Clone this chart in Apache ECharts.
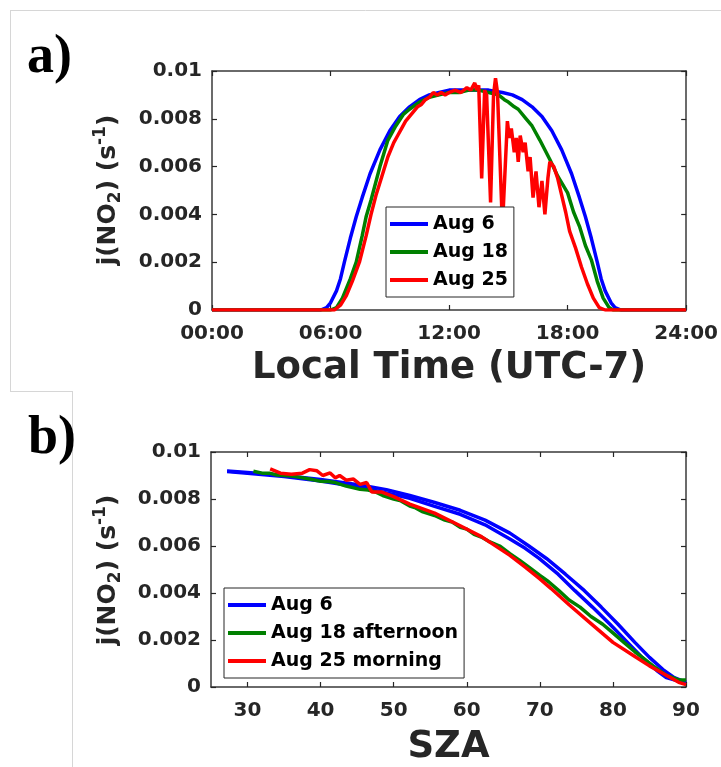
<!DOCTYPE html>
<html>
<head>
<meta charset="utf-8">
<script src="https://cdn.jsdelivr.net/npm/echarts@6/dist/echarts.min.js"></script>
<style>
  html, body { margin: 0; padding: 0; background: #fff; }
  #chart { width: 721px; height: 767px; }
</style>
</head>
<body>
<div id="chart"></div>
<script>
// ---- Panel a: j(NO2) against local time, [hour, value] ----
const aug6Time = [
  [0, 0], [5.5, 0], [5.8, 0.0001], [6.0, 0.0003], [6.3, 0.0008], [6.5, 0.0013], [6.7, 0.0020],
  [7.0, 0.0030], [7.3, 0.0039], [7.6, 0.0047], [8.0, 0.0057], [8.5, 0.0067], [9.0, 0.0075],
  [9.5, 0.0081], [10.0, 0.0085], [10.5, 0.0088], [11.0, 0.0090], [11.5, 0.0091], [12.0, 0.0092],
  [12.5, 0.0092], [13.0, 0.0092], [13.5, 0.0092], [14.0, 0.0092], [14.7, 0.0091], [15.2, 0.0090],
  [15.7, 0.0088], [16.2, 0.0085], [16.7, 0.0081], [17.2, 0.0075], [17.7, 0.0067], [18.2, 0.0057],
  [18.6, 0.0047], [18.9, 0.0039], [19.2, 0.0030], [19.5, 0.0020], [19.7, 0.0013], [19.9, 0.0008],
  [20.2, 0.0003], [20.4, 0.0001], [20.7, 0], [24, 0]
];
const aug18Time = [
  [0, 0], [6.0, 0], [6.3, 0.0001], [6.6, 0.0005], [7.0, 0.0013], [7.3, 0.0020], [7.6, 0.0031],
  [7.8, 0.0039], [8.05, 0.0046], [8.5, 0.0060], [8.9, 0.0071], [9.3, 0.0077], [9.7, 0.0082],
  [10.0, 0.0084], [10.5, 0.0087], [11.0, 0.0089], [11.5, 0.0090], [12.0, 0.0091], [12.5, 0.0091],
  [13.0, 0.0092], [13.5, 0.0092], [14.0, 0.0091], [14.5, 0.0090], [14.8, 0.0088], [15.0, 0.0087],
  [15.3, 0.0085], [15.5, 0.0084], [15.9, 0.0080], [16.2, 0.0077], [16.6, 0.0071], [17.1, 0.0063],
  [17.5, 0.0056], [18.0, 0.0049], [18.3, 0.0041], [18.6, 0.0035], [18.9, 0.0027], [19.2, 0.0021],
  [19.5, 0.0012], [19.8, 0.0005], [20.1, 0.0001], [20.3, 0], [24, 0]
];
const aug25Time = [
  [0, 0], [6.2, 0], [6.5, 0.0002], [6.8, 0.0006], [7.1, 0.0012], [7.46, 0.0020], [7.8, 0.0031],
  [8.05, 0.0040], [8.3, 0.0048], [8.6, 0.0056], [8.9, 0.0064], [9.2, 0.0070], [9.4, 0.0073],
  [9.6, 0.0076], [9.8, 0.0079], [10.0, 0.0081], [10.2, 0.0083], [10.4, 0.0085], [10.6, 0.0086],
  [10.8, 0.0088], [11.0, 0.0089], [11.2, 0.0091], [11.4, 0.0090], [11.6, 0.0091], [11.8, 0.0090],
  [12.0, 0.0091], [12.3, 0.0092], [12.6, 0.0091], [12.9, 0.0093], [13.1, 0.0092], [13.3, 0.0095],
  [13.4, 0.0092], [13.5, 0.0094], [13.65, 0.0055], [13.8, 0.0092], [13.9, 0.0090], [14.1, 0.0045],
  [14.25, 0.0090], [14.35, 0.0097], [14.45, 0.0091], [14.7, 0.0035], [14.95, 0.0079], [15.05, 0.0072],
  [15.15, 0.0076], [15.3, 0.0066], [15.4, 0.0072], [15.5, 0.0062], [15.6, 0.0073], [15.75, 0.0066],
  [15.85, 0.0070], [16.0, 0.0058], [16.1, 0.0064], [16.25, 0.0047], [16.4, 0.0058], [16.55, 0.0043],
  [16.7, 0.0054], [16.85, 0.0040], [17.0, 0.0055], [17.1, 0.0062], [17.3, 0.0060], [17.5, 0.0055],
  [17.7, 0.0048], [17.9, 0.0041], [18.1, 0.0033], [18.4, 0.0026], [18.7, 0.0018], [19.0, 0.0011],
  [19.3, 0.0005], [19.6, 0.0001], [19.9, 0], [24, 0]
];

// ---- Panel b: j(NO2) against solar zenith angle, [SZA, value] ----
const aug6SzaMorning = [
  [27.2, 0.00917], [30, 0.00910], [35, 0.00896], [40, 0.00877], [45.4, 0.0085], [49, 0.00826],
  [52.2, 0.00803], [55.5, 0.0077], [59.1, 0.00735], [62.5, 0.0069], [65.9, 0.0063], [68, 0.0059],
  [69.9, 0.00547], [72.5, 0.0048], [74.8, 0.0041], [77.2, 0.0034], [79.6, 0.00267], [82, 0.0019],
  [84, 0.00126], [86, 0.0007], [87.3, 0.0004], [89, 0.00025], [90, 0.0002]
];
const aug6SzaAfternoon = [
  [27.2, 0.00919], [30, 0.00913], [35, 0.00900], [40, 0.00883], [45.4, 0.0086], [49, 0.0084],
  [52.2, 0.00815], [55.5, 0.00786], [59.1, 0.00752], [62.5, 0.0071], [65.9, 0.00655], [68.5, 0.0060],
  [70.9, 0.00547], [73.5, 0.0048], [76.1, 0.0041], [78.4, 0.0034], [80.7, 0.00267], [83, 0.0019],
  [85, 0.00126], [87, 0.0007], [88.4, 0.0004], [90, 0.0002]
];
const aug18SzaAfternoon = [
  [30.8, 0.00918], [32, 0.0091], [33, 0.0091], [34, 0.00902], [35, 0.0090], [36, 0.00898],
  [37, 0.00893], [38.5, 0.00885], [39.9, 0.00876], [41, 0.00874], [42, 0.0087], [43.5, 0.00855],
  [45.4, 0.00841], [46.5, 0.00838], [47.5, 0.0083], [48.5, 0.00815], [50, 0.0080], [51, 0.00792],
  [52.2, 0.0077], [53, 0.00762], [54, 0.00745], [55.6, 0.0073], [57, 0.0071], [58, 0.00702],
  [59.1, 0.0068], [60, 0.00672], [61, 0.0065], [62, 0.00638], [63, 0.0062], [64.5, 0.0060],
  [65.9, 0.00567], [67.2, 0.0054], [68.5, 0.0051], [70, 0.00475], [71.2, 0.00448], [72.6, 0.0041],
  [74, 0.0037], [75.5, 0.0034], [77, 0.0030], [78.6, 0.00267], [80, 0.0023], [81.5, 0.0019],
  [83, 0.0015], [84, 0.00126], [85.5, 0.0009], [87.3, 0.0005], [89, 0.0003], [90, 0.0003]
];
const aug25SzaMorning = [
  [33.1, 0.00928], [34.5, 0.0091], [36, 0.00905], [37.5, 0.0091], [38.5, 0.00925], [39.5, 0.0092],
  [40.3, 0.0090], [41.3, 0.00911], [42, 0.0089], [42.6, 0.0090], [43.5, 0.0088], [44.5, 0.00885],
  [45.4, 0.00862], [46.3, 0.0087], [47, 0.0083], [48.3, 0.0083], [50, 0.0081], [52.2, 0.00778],
  [55.6, 0.0074], [59.1, 0.00686], [62, 0.0064], [65.9, 0.0056], [68, 0.0051], [70, 0.0046],
  [71.5, 0.0042], [74, 0.0035], [77, 0.0027], [80, 0.0019], [83, 0.0013], [85, 0.0009],
  [87.3, 0.0005], [89, 0.0002], [90, 0.0001]
];

// ---- Axis ticks and labels ----
const hourTicks = [0, 6, 12, 18, 24];
const szaTicks = [30, 40, 50, 60, 70, 80, 90];
const legendA = ['Aug 6', 'Aug 18', 'Aug 25'];
const legendB = ['Aug 6', 'Aug 18 afternoon', 'Aug 25 morning'];

const FONT = '"DejaVu Sans", Verdana, sans-serif';
const AXIS_COLOR = '#262626';
const BLUE = '#0000ff', GREEN = '#008000', RED = '#ff0000';

const hourLabel = v => (v < 10 ? '0' : '') + v + ':00';
const jLabel = v => (v === 0 ? '0' : String(+v.toFixed(3)));

const tickLine = { color: AXIS_COLOR, width: 1.2 };
function boxAxis(extra) {
  return Object.assign({
    type: 'value',
    splitLine: { show: false },
    axisLine: { show: true, onZero: false, lineStyle: { color: '#3a3a3a', width: 1.5 } },
    axisTick: { show: true, inside: true, length: 5, lineStyle: tickLine },
    axisLabel: { show: false }
  }, extra);
}
const tickLabel = { color: AXIS_COLOR, fontFamily: FONT, fontWeight: 'bold', fontSize: 20 };
const titleStyle = { color: AXIS_COLOR, fontFamily: FONT, fontWeight: 'bold', fontSize: 37 };

function line(name, data, color, xi, yi) {
  return {
    type: 'line', name, data, xAxisIndex: xi, yAxisIndex: yi,
    showSymbol: false, symbol: 'none', smooth: false, animation: false,
    lineStyle: { color, width: 3.5 }, itemStyle: { color }
  };
}

function legendBox(data, left, top) {
  return {
    data, orient: 'vertical', left, top, selectedMode: false,
    icon: 'rect', itemWidth: 38, itemHeight: 4, itemGap: 4,
    backgroundColor: '#ffffff', borderColor: AXIS_COLOR, borderWidth: 1,
    padding: [5, 6, 5, 4],
    textStyle: { color: '#000', fontFamily: FONT, fontWeight: 'bold', fontSize: 19, lineHeight: 24 }
  };
}

function yTitle(x, y) {
  const base = { fill: AXIS_COLOR, fontFamily: FONT, fontWeight: 'bold' };
  return {
    type: 'text', x, y, rotation: Math.PI / 2, z: 10,
    style: {
      text: '{m|j(NO}{s|2}{m|) (s}{p|-1}{m|)}',
      textAlign: 'center', textVerticalAlign: 'middle',
      rich: {
        m: Object.assign({ fontSize: 25, lineHeight: 32 }, base),
        s: Object.assign({ fontSize: 17, lineHeight: 17, verticalAlign: 'bottom' }, base),
        p: Object.assign({ fontSize: 17, lineHeight: 17, verticalAlign: 'top' }, base)
      }
    }
  };
}

const frame = { stroke: '#d6d6d6', lineWidth: 1 };
const panelFont = 'bold 54px "Liberation Serif", "Times New Roman", serif';

const option = {
  backgroundColor: '#ffffff',
  animation: false,
  grid: [
    { left: 212, top: 71, width: 476, height: 239 },
    { left: 211, top: 452, width: 475, height: 237 }
  ],
  xAxis: [
    boxAxis({
      gridIndex: 0, position: 'bottom', min: 0, max: 24, interval: 6,
      axisLabel: Object.assign({ show: true, margin: 14, formatter: hourLabel, customValues: hourTicks }, tickLabel),
      axisTick: { show: true, inside: true, length: 5, customValues: hourTicks, lineStyle: tickLine },
      name: 'Local Time (UTC-7)', nameLocation: 'middle', nameGap: 40, nameTextStyle: titleStyle
    }),
    boxAxis({ gridIndex: 0, position: 'top', min: 0, max: 24, interval: 6,
      axisTick: { show: true, inside: true, length: 5, customValues: hourTicks, lineStyle: tickLine } }),
    boxAxis({
      gridIndex: 1, position: 'bottom', min: 25, max: 90,
      axisLabel: Object.assign({ show: true, margin: 14, customValues: szaTicks }, tickLabel),
      axisTick: { show: true, inside: true, length: 5, customValues: szaTicks, lineStyle: tickLine },
      name: 'SZA', nameLocation: 'middle', nameGap: 42, nameTextStyle: titleStyle
    }),
    boxAxis({ gridIndex: 1, position: 'top', min: 25, max: 90,
      axisTick: { show: true, inside: true, length: 5, customValues: szaTicks, lineStyle: tickLine } })
  ],
  yAxis: [
    boxAxis({ gridIndex: 0, position: 'left', min: 0, max: 0.01, interval: 0.002,
      axisLabel: Object.assign({ show: true, margin: 10, formatter: jLabel }, tickLabel) }),
    boxAxis({ gridIndex: 0, position: 'right', min: 0, max: 0.01, interval: 0.002 }),
    boxAxis({ gridIndex: 1, position: 'left', min: 0, max: 0.01, interval: 0.002,
      axisLabel: Object.assign({ show: true, margin: 10, formatter: jLabel }, tickLabel) }),
    boxAxis({ gridIndex: 1, position: 'right', min: 0, max: 0.01, interval: 0.002 })
  ],
  legend: [legendBox(legendA, 386, 207), legendBox(legendB, 224, 588)],
  series: [
    line('Aug 6', aug6Time, BLUE, 0, 0),
    line('Aug 18', aug18Time, GREEN, 0, 0),
    line('Aug 25', aug25Time, RED, 0, 0),
    line('Aug 6', aug6SzaMorning, BLUE, 2, 2),
    line('Aug 6', aug6SzaAfternoon, BLUE, 2, 2),
    line('Aug 18 afternoon', aug18SzaAfternoon, GREEN, 2, 2),
    line('Aug 25 morning', aug25SzaMorning, RED, 2, 2)
  ],
  graphic: [
    { type: 'line', shape: { x1: 10, y1: 10.5, x2: 721, y2: 10.5 }, style: frame, silent: true },
    { type: 'line', shape: { x1: 10.5, y1: 10, x2: 10.5, y2: 391 }, style: frame, silent: true },
    { type: 'line', shape: { x1: 10, y1: 391.5, x2: 72, y2: 391.5 }, style: frame, silent: true },
    { type: 'line', shape: { x1: 72.5, y1: 391, x2: 72.5, y2: 767 }, style: frame, silent: true },
    { type: 'text', x: 27, y: 58, style: { text: 'a)', fill: '#000', font: panelFont, textVerticalAlign: 'middle' } },
    { type: 'text', x: 28, y: 439, style: { text: 'b)', fill: '#000', font: panelFont, textVerticalAlign: 'middle' } },
    yTitle(108, 190),
    yTitle(108, 570)
  ]
};

const chart = echarts.init(document.getElementById('chart'), null, { renderer: 'canvas' });
chart.setOption(option);
</script>
</body>
</html>
